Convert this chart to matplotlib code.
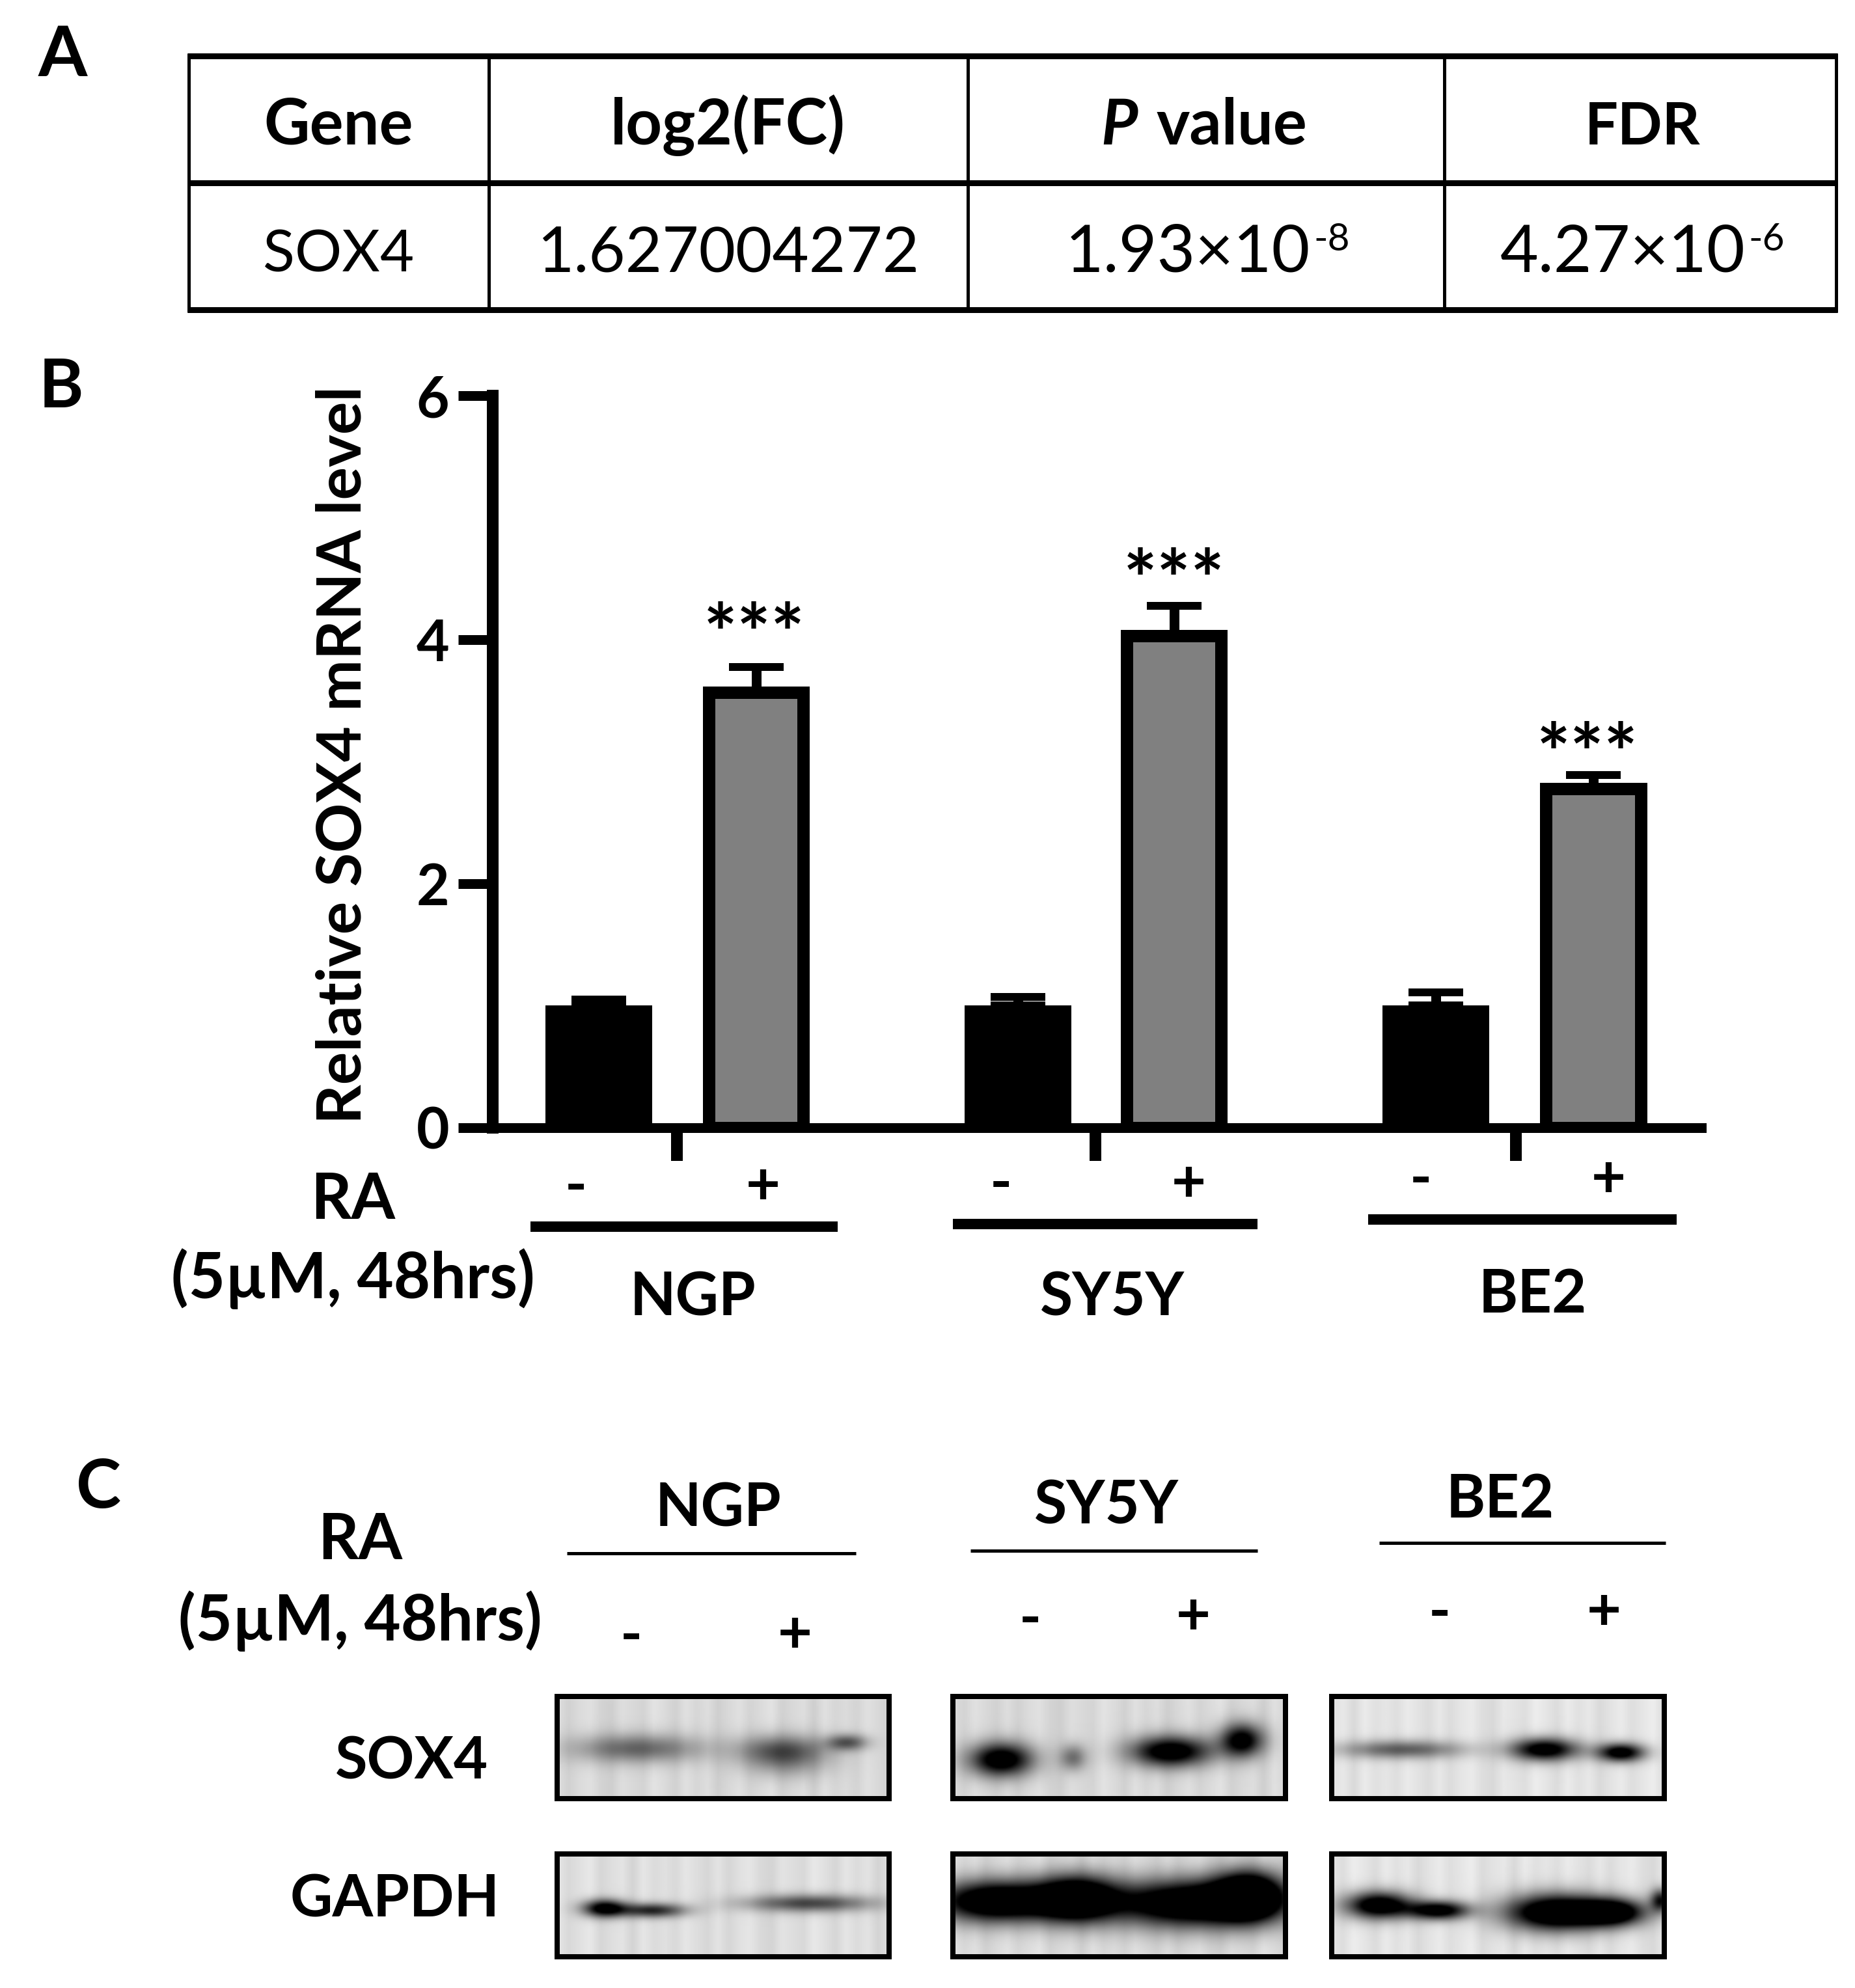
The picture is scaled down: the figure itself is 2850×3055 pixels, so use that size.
import numpy as np
import matplotlib
matplotlib.use('Agg')
import matplotlib.pyplot as plt

plt.rcParams['font.family'] = ['Lato', 'DejaVu Sans']

# table
headers = ['Gene', 'log2(FC)', 'value', 'FDR']
row = ['SOX4', '1.627004272', '1.93×10', '4.27×10']
exponents = ['-8', '-6']

# bar chart
groups = ['NGP', 'SY5Y', 'BE2']
x_ctrl = [0, 2.665, 5.32]
x_ra = [1.0, 3.655, 6.32]
ctrl = [1.0, 1.0, 1.0]
ctrl_err = [0.05, 0.07, 0.11]
ra = [3.57, 4.03, 2.78]
ra_err = [0.206, 0.25, 0.11]
tick_pos = [0.496, 3.158, 5.829]
yticks = [0, 2, 4, 6]
star_x = [0.988, 3.656, 6.28]
star_y = [3.82, 4.26, 2.84]

# blots: x, y, half width, half height, darkness (fractions of the panel)
sox4_ngp = [(.24, .51, .19, .14, .55), (.68, .53, .13, .15, .65), (.875, .45, .06, .08, .6), (.69, .69, .12, .14, .2)]
sox4_sy5y = [(.143, .62, .095, .165, 1.25), (.36, .60, .04, .13, .5), (.655, .54, .12, .15, 1.25), (.87, .43, .065, .165, 1.15)]
sox4_be2 = [(.21, .52, .18, .09, .6), (.64, .52, .10, .11, 1.2), (.87, .55, .07, .09, 1.2)]
gapdh_ngp = [(.14, .53, .065, .085, 1.15), (.285, .55, .10, .07, .85), (.76, .48, .19, .085, .7)]
gapdh_sy5y = [(.13, .46, .18, .20, 1.5), (.37, .435, .12, .22, 1.5), (.72, .48, .25, .23, 1.5), (.89, .40, .10, .23, 1.5)]
gapdh_be2 = [(.14, .50, .10, .13, 1.3), (.32, .55, .09, .09, 1.2), (.675, .57, .15, .175, 1.5), (.845, .57, .10, .13, 1.3), (.99, .45, .03, .11, .9)]
blot_bg = [.85, .85, .89, .87, .86, .89]
streaks = [.02, -.03, .01, .03, -.02, -.04, .02, .00, -.02, .04, .01, -.03, .03, -.01, .02, -.04, .00, .03, -.02, .01,
           .04, -.03, .00, .02, -.04, .03, -.01, .01, -.02, .03, .00, -.03]

W, H = 2850, 3055
XS = 0.995  # x positions were read a bit wide
fig = plt.figure(figsize=(W / 100, H / 100), dpi=100)
PX = 72 / 100


def px_axes(x0, y0, x1, y1):
    return fig.add_axes([x0 * XS / W, 1 - y1 / H, (x1 - x0) * XS / W, (y1 - y0) / H])


over = fig.add_axes([0, 0, 1, 1])
over.set_xlim(0, W / XS)
over.set_ylim(H, 0)
over.axis('off')


def label(x, y, s, size=70, weight='bold', ha='center', va='baseline', **kw):
    over.text(x, y, s, fontsize=size, fontweight=weight, ha=ha, va=va, color='black', **kw)


# panel letters
label(59, 117, 'A', size=78, ha='left')
label(60, 626, 'B', size=75, ha='left')
label(118, 2317, 'C', size=75, ha='left')

# panel A
for y in [86, 281, 476]:
    over.plot([289, 2837], [y, y], color='black', lw=9 * PX, solid_capstyle='butt')
for x in [291, 755, 1494, 2230, 2835]:
    over.plot([x, x], [82, 480], color='black', lw=5 * PX, solid_capstyle='butt')
label(523, 222, headers[0])
label(1124, 222, headers[1])
label(1700, 222, 'P', ha='left', style='italic')
label(1785, 222, headers[2], ha='left')
label(2536, 222, headers[3], size=65)
label(523, 417, row[0], size=65, weight='normal')
label(1124, 417, row[1], weight='normal')
label(1645, 417, row[2], size=73, weight='normal', ha='left')
label(2029, 385, exponents[0], size=42, weight='normal', ha='left')
label(2316, 417, row[3], size=73, weight='normal', ha='left')
label(2700, 385, exponents[1], size=42, weight='normal', ha='left')

# panel B
ax = px_axes(761, 608, 2627, 1733)
ax.set_xlim(-0.673, 7.006)
ax.set_ylim(0, 6)
ax.patch.set_alpha(0)
ax.errorbar(x_ctrl, ctrl, yerr=[[0] * 3, ctrl_err], fmt='none', ecolor='black', elinewidth=15 * PX,
            capsize=30, capthick=12 * PX, zorder=1)
ax.errorbar(x_ra, ra, yerr=[[0] * 3, ra_err], fmt='none', ecolor='black', elinewidth=15 * PX,
            capsize=30, capthick=12 * PX, zorder=1)
ax.bar(x_ctrl, ctrl, width=0.68, color='black', zorder=2)
ax.bar(x_ra, ra, width=0.6, color='#808080', edgecolor='black', linewidth=19 * PX, zorder=2)
for s in ['top', 'right']:
    ax.spines[s].set_visible(False)
ax.spines['left'].set_linewidth(18 * PX)
ax.spines['bottom'].set_linewidth(15 * PX)
ax.set_xticks(tick_pos)
ax.set_xticklabels([])
ax.tick_params(axis='x', length=51 * PX, width=18 * PX)
ax.set_yticks(yticks)
ax.tick_params(axis='y', length=53 * PX, width=15 * PX, pad=14 * PX, labelsize=63)
for t in ax.get_yticklabels():
    t.set_fontweight('bold')
for x, y in zip(star_x, star_y):
    ax.text(x, y, '***', ha='center', va='baseline', fontsize=88, fontweight='bold')
label(558, 1160, 'Relative SOX4 mRNA level', size=68, rotation=90, rotation_mode='anchor', va='baseline')

label(545, 1873, 'RA')
label(545, 1995, '(5µM, 48hrs)')
signs_b = [(889, 1825), (1178, 1825), (1546, 1821), (1835, 1821), (2194, 1814), (2484, 1814)]
for i, (x, y) in enumerate(signs_b):
    label(x, y, '+' if i % 2 else '-', va='center', size=66)
for (x0, x1, y), name, tx, ty in zip([(819, 1293, 1885), (1471, 1942, 1881), (2113, 2589, 1874)],
                                     groups, [1070, 1718, 2367], [2021, 2021, 2017]):
    over.plot([x0, x1], [y, y], color='black', lw=16 * PX, solid_capstyle='butt')
    label(tx, ty, name, size=66)

# panel C
for (x0, x1, y), name, tx, ty in zip([(875, 1322, 2387), (1498, 1942, 2383), (2130, 2572, 2371)],
                                     groups, [1109, 1708, 2316], [2346, 2342, 2332]):
    over.plot([x0, x1], [y, y], color='black', lw=5 * PX, solid_capstyle='butt')
    label(tx, ty, name, size=66)
label(556, 2396, 'RA')
label(556, 2521, '(5µM, 48hrs)')
signs_c = [(975, 2516), (1227, 2514), (1591, 2490), (1843, 2486), (2223, 2480), (2477, 2479)]
for i, (x, y) in enumerate(signs_c):
    label(x, y, '+' if i % 2 else '-', va='center', size=66)
label(636, 2733, 'SOX4', size=65)
label(610, 2945, 'GAPDH', size=65)

blots = [sox4_ngp, sox4_sy5y, sox4_be2, gapdh_ngp, gapdh_sy5y, gapdh_be2]
boxes = [(860, 2607, 1373, 2764), (1471, 2607, 1985, 2764), (2056, 2607, 2570, 2764),
         (860, 2849, 1373, 3007), (1471, 2849, 1985, 3007), (2056, 2849, 2570, 3007)]
yy, xx = np.mgrid[0:1:80j, 0:1:160j]
for n, (bands, bg, box) in enumerate(zip(blots, blot_bg, boxes)):
    dark = np.zeros_like(xx)
    for bx, by, hw, hh, amp in bands:
        dark += amp * np.exp(-((xx - bx) / hw) ** 2 - ((yy - by) / hh) ** 2)
    tex = np.interp(xx[0], np.linspace(0, 1, len(streaks)), np.roll(streaks, n * 5))
    img = (bg + tex[None, :]) * np.clip(1 - dark, 0, 1)
    b = px_axes(*box)
    b.imshow(img, cmap='gray', vmin=0, vmax=1, aspect='auto', interpolation='bilinear')
    b.set_xticks([])
    b.set_yticks([])
    for s in b.spines.values():
        s.set_linewidth(8 * PX)

fig.savefig('out.png', dpi=100)
